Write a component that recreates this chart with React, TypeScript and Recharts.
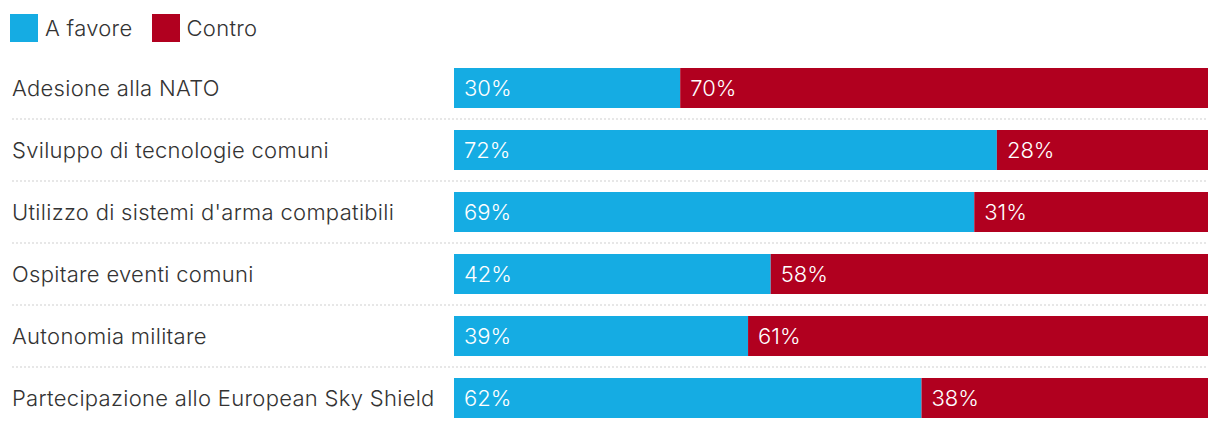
import React from 'react';
import { BarChart, Bar, XAxis, YAxis, LabelList } from 'recharts';

const categories = [
  'Adesione alla NATO',
  'Sviluppo di tecnologie comuni',
  "Utilizzo di sistemi d'arma compatibili",
  'Ospitare eventi comuni',
  'Autonomia militare',
  'Partecipazione allo European Sky Shield',
];
const favore = [30, 72, 69, 42, 39, 62];
const contro = [70, 28, 31, 58, 61, 38];

const BLUE = '#15ace3';
const RED = '#b1001f';
const FONT = 'Inter, Roboto, sans-serif';
const ROW_H = 62;

const data = categories.map((name, i) => ({ name, favore: favore[i], contro: contro[i] }));

const CategoryTick = (props: any) => {
  const { y, payload, index } = props;
  const last = index === categories.length - 1;
  return (
    <g>
      <text x={12} y={y} dy={8} textAnchor="start" fill="#333" fontSize={22} fontWeight={300} fontFamily={FONT} letterSpacing={0.3}>
        {payload.value}
      </text>
      {!last && (
        <line x1={12} x2={1208} y1={y + ROW_H / 2} y2={y + ROW_H / 2} stroke="#cfcfcf" strokeWidth={1} strokeDasharray="2 2" />
      )}
    </g>
  );
};

const ChartLegend = () => (
  <div style={{ position: 'absolute', left: 10, top: 14, display: 'flex', alignItems: 'center', fontFamily: FONT, fontWeight: 300, fontSize: 22, color: '#333', lineHeight: '28px', letterSpacing: 0.3 }}>
    <span style={{ width: 28, height: 28, background: BLUE, display: 'inline-block', marginRight: 7 }} />
    <span style={{ marginRight: 19 }}>A favore</span>
    <span style={{ width: 28, height: 28, background: RED, display: 'inline-block', marginRight: 7 }} />
    <span>Contro</span>
  </div>
);

const pct = (v: any) => `${v}%`;

export default function App() {
  return (
    <div style={{ position: 'absolute', left: 0, top: 0, width: 1220, height: 430, background: '#fff' }}>
      <ChartLegend />
      <BarChart
        width={1220}
        height={430}
        data={data}
        layout="vertical"
        margin={{ top: 57, right: 12, bottom: 1, left: 0 }}
        barCategoryGap={11}
      >
        <XAxis type="number" domain={[0, 100]} hide />
        <YAxis
          type="category"
          dataKey="name"
          width={454}
          axisLine={false}
          tickLine={false}
          tick={<CategoryTick />}
        />
        <Bar dataKey="favore" stackId="a" fill={BLUE} isAnimationActive={false}>
          <LabelList dataKey="favore" position="insideLeft" offset={10} fill="#fff" fontSize={22} fontWeight={300} fontFamily={FONT} formatter={pct} />
        </Bar>
        <Bar dataKey="contro" stackId="a" fill={RED} isAnimationActive={false}>
          <LabelList dataKey="contro" position="insideLeft" offset={10} fill="#fff" fontSize={22} fontWeight={300} fontFamily={FONT} formatter={pct} />
        </Bar>
      </BarChart>
    </div>
  );
}
